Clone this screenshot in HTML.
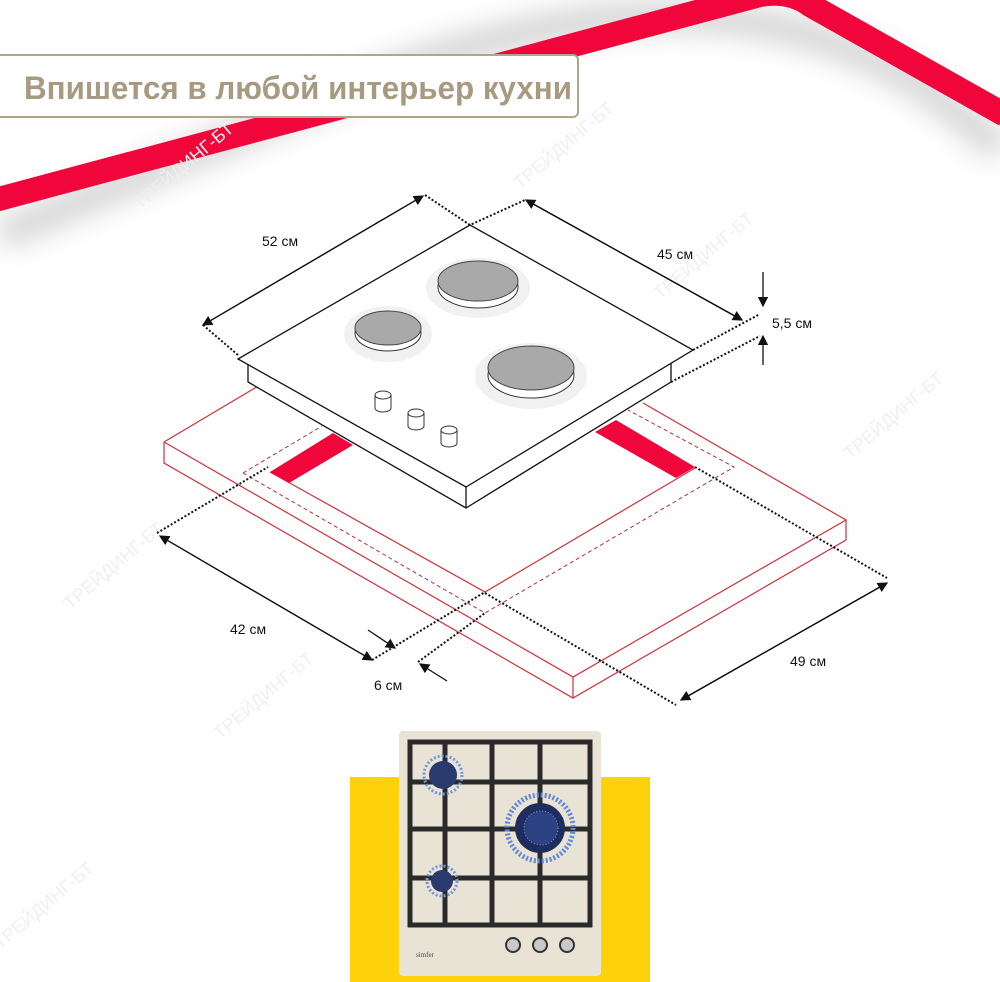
<!DOCTYPE html>
<html><head><meta charset="utf-8"><style>
body{margin:0;width:1000px;height:982px;overflow:hidden;background:#fff;font-family:"Liberation Sans",sans-serif}
svg{position:absolute;left:0;top:0}
.t{font-family:"Liberation Sans",sans-serif;font-size:14px;fill:#111}
</style></head><body>
<svg width="1000" height="982" viewBox="0 0 1000 982">
<defs>
<filter id="sh" x="-20%" y="-20%" width="140%" height="160%"><feGaussianBlur stdDeviation="14"/></filter>
<marker id="ar" markerWidth="8" markerHeight="8" refX="7" refY="4" orient="auto"><path d="M0,0 L8,4 L0,8 z" fill="#111"/></marker>
</defs>
<path d="M0,215 L360,65 Q770,-100 1000,130" stroke="#d4d4d4" stroke-width="30" fill="none" filter="url(#sh)" transform="translate(0,20)"/>
<path d="M-5,200 L760,-5 Q790,-10 810,5 L1005,115" stroke="#f0063a" stroke-width="24" fill="none" stroke-linejoin="round"/>
<rect x="-5" y="55" width="583" height="62" rx="5" fill="#fff" stroke="#b3a58a" stroke-width="2"/>
<text x="24" y="99" style="font-family:'Liberation Sans',sans-serif;font-weight:bold;font-size:32px;fill:#a79a80" textLength="548" lengthAdjust="spacingAndGlyphs">Впишется в любой интерьер кухни</text>

<g fill="#efefef" font-size="18" font-family="Liberation Sans,sans-serif">
<text transform="translate(140,210) rotate(-40)">ТРЕЙДИНГ-БТ</text>
<text transform="translate(520,190) rotate(-40)">ТРЕЙДИНГ-БТ</text>
<text transform="translate(660,300) rotate(-40)">ТРЕЙДИНГ-БТ</text>
<text transform="translate(850,460) rotate(-40)">ТРЕЙДИНГ-БТ</text>
<text transform="translate(70,610) rotate(-40)">ТРЕЙДИНГ-БТ</text>
<text transform="translate(220,740) rotate(-40)">ТРЕЙДИНГ-БТ</text>
<text transform="translate(0,950) rotate(-40)">ТРЕЙДИНГ-БТ</text>
</g>

<g stroke="#d0303a" stroke-width="1.2" fill="none">
<path d="M164,442 L260,385 M164,442 L573,677 L846,520 L643,403"/>
<path d="M164,442 L164,463 L573,698 L846,540 L846,520 M573,677 L573,698"/>
<path d="M270,472 L485,592 L695,468"/>
</g>
<g stroke="#b0303a" stroke-width="1" fill="none" stroke-dasharray="4,3">
<path d="M243,473 L485,613 L734,467 L628,410 M243,473 L322,426"/>
</g>
<polygon points="270,472 289,483 353,445 333,433" fill="#f0063a"/>
<polygon points="595,432 616,420 695,467 676,478" fill="#f0063a"/>

<polygon points="248,359 248,382 466,508 671,382 671,350" fill="#fff" stroke="#111" stroke-width="1.3"/>
<polygon points="238,359 470,225 693,350 466,487" fill="#fff" stroke="#111" stroke-width="1.3"/>
<path d="M466,487 L466,508" stroke="#111" stroke-width="1.3"/>
<g>
<ellipse cx="478" cy="288" rx="52" ry="30" fill="#f1f1f1"/>
<ellipse cx="478" cy="287" rx="40" ry="21" fill="#fff" stroke="#333"/>
<ellipse cx="478" cy="281" rx="40" ry="20" fill="#a9a9a9" stroke="#444"/>
<ellipse cx="388" cy="334" rx="44" ry="28" fill="#f1f1f1"/>
<ellipse cx="388" cy="333" rx="33" ry="18" fill="#fff" stroke="#333"/>
<ellipse cx="388" cy="328" rx="33" ry="17" fill="#a9a9a9" stroke="#444"/>
<ellipse cx="531" cy="376" rx="56" ry="33" fill="#f1f1f1"/>
<ellipse cx="531" cy="375" rx="43" ry="23" fill="#fff" stroke="#333"/>
<ellipse cx="531" cy="368" rx="43" ry="22" fill="#a9a9a9" stroke="#444"/>
</g>
<g fill="#fff" stroke="#333">
<path d="M375,395 v13 a8,4 0 0 0 16,0 v-13"/><ellipse cx="383" cy="395" rx="8" ry="4"/>
<path d="M408,413 v13 a8,4 0 0 0 16,0 v-13"/><ellipse cx="416" cy="413" rx="8" ry="4"/>
<path d="M441,430 v13 a8,4 0 0 0 16,0 v-13"/><ellipse cx="449" cy="430" rx="8" ry="4"/>
</g>

<g stroke="#111" stroke-width="1.3" fill="none">
<line x1="423" y1="196" x2="203" y2="325" marker-end="url(#ar)"/>
<line x1="203" y1="325" x2="423" y2="196" marker-end="url(#ar)"/>
<line x1="526" y1="200" x2="742" y2="320" marker-end="url(#ar)"/>
<line x1="742" y1="320" x2="526" y2="200" marker-end="url(#ar)"/>
<line x1="763" y1="272" x2="763" y2="306" marker-end="url(#ar)"/>
<line x1="763" y1="365" x2="763" y2="336" marker-end="url(#ar)"/>
<line x1="372" y1="660" x2="160" y2="536" marker-end="url(#ar)"/>
<line x1="160" y1="536" x2="372" y2="660" marker-end="url(#ar)"/>
<line x1="368" y1="630" x2="395" y2="648" marker-end="url(#ar)"/>
<line x1="447" y1="681" x2="420" y2="664" marker-end="url(#ar)"/>
<line x1="681" y1="700" x2="887" y2="583" marker-end="url(#ar)"/>
<line x1="887" y1="583" x2="681" y2="700" marker-end="url(#ar)"/>
</g>
<g stroke="#111" stroke-width="2" fill="none" stroke-dasharray="2,2">
<path d="M203,325 L238,355 M425,195 L470,225 L525,200"/>
<path d="M693,350 L760,314 M671,382 L760,336"/>
<path d="M157,533 L268,467 M372,660 L485,592 M418,662 L485,613"/>
<path d="M695,467 L887,578 M485,593 L676,705"/>
</g>
<text class="t" x="262" y="246">52 см</text>
<text class="t" x="657" y="259">45 см</text>
<text class="t" x="772" y="328">5,5 см</text>
<text class="t" x="230" y="634">42 см</text>
<text class="t" x="374" y="690">6 см</text>
<text class="t" x="790" y="666">49 см</text>

<rect x="350" y="777" width="300" height="205" fill="#fdd20a"/>
<rect x="399" y="731" width="202" height="245" rx="4" fill="#e9e3d6"/>
<g stroke="#2b2a2a" stroke-width="5" fill="none">
<rect x="410" y="742" width="180" height="183"/>
<path d="M445,742 V925 M492,742 V925 M540,742 V925 M410,782 H590 M410,829 H590 M410,878 H590"/>
</g>
<g>
<circle cx="443" cy="775" r="19" fill="none" stroke="#6f95e0" stroke-width="3" stroke-dasharray="2,2"/>
<circle cx="443" cy="775" r="14" fill="#283a6e"/>
<circle cx="540" cy="828" r="33" fill="none" stroke="#5f87dc" stroke-width="5" stroke-dasharray="2,2"/>
<circle cx="540" cy="828" r="25" fill="#1f2d5e"/>
<circle cx="541" cy="828" r="17" fill="#2d4283" stroke="#6f95e0" stroke-dasharray="1,2"/>
<circle cx="442" cy="881" r="15" fill="none" stroke="#6f95e0" stroke-width="3" stroke-dasharray="2,2"/>
<circle cx="442" cy="881" r="11" fill="#283a6e"/>
</g>
<g fill="#c9c9c9" stroke="#333" stroke-width="2">
<circle cx="513" cy="945" r="7"/><circle cx="540" cy="945" r="7"/><circle cx="567" cy="945" r="7"/>
</g>
<text x="416" y="957" font-size="7" fill="#444" font-family="Liberation Serif,serif">simfer</text>
</svg>
</body></html>
